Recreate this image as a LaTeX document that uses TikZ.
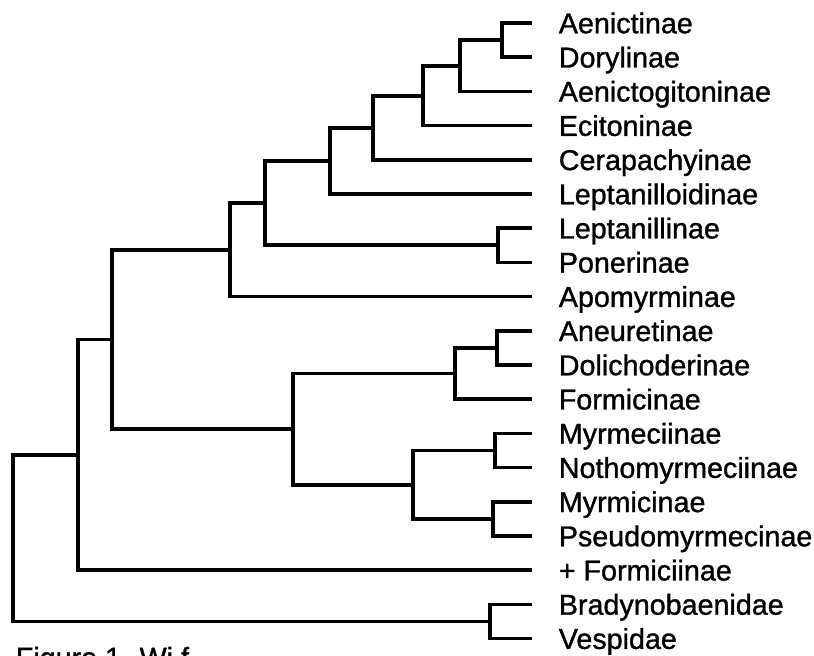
\documentclass[tikz,border=0pt]{standalone}
\usepackage{fontspec}
\setmainfont{Liberation Sans}[BoldFont=Liberation Sans,BoldFeatures={FakeBold=1.1}]
\usepackage{tikz}

\begin{document}
\begin{tikzpicture}[x=0.025cm,y=-0.025cm,line width=2.6pt,
taxon/.style={anchor=west,inner xsep=0.625cm,inner ysep=0pt,text height=14.6pt,text depth=0pt,font=\fontsize{20.4}{24}\selectfont\bfseries}]
\useasboundingbox(0,0)rectangle(814,656);
\node[taxon](aenic)at(532,23){Aenictinae};
\node[taxon](doryl)at(532,57.2){Dorylinae};
\node[taxon](aenictog)at(532,91.4){Aenictogitoninae};
\node[taxon](ecito)at(532,125.6){Ecitoninae};
\node[taxon](cerap)at(532,159.8){Cerapachyinae};
\node[taxon](leptoid)at(532,194){Leptanilloidinae};
\node[taxon](leptan)at(532,228.2){Leptanillinae};
\node[taxon](poner)at(532,262.4){Ponerinae};
\node[taxon](apomy)at(532,296.6){Apomyrminae};
\node[taxon](aneur)at(532,330.8){Aneuretinae};
\node[taxon](dolich)at(532,365){Dolichoderinae};
\node[taxon](formic)at(532,399.2){Formicinae};
\node[taxon](myrmec)at(532,433.4){Myrmeciinae};
\node[taxon](nothom)at(532,467.6){Nothomyrmeciinae};
\node[taxon](myrmic)at(532,501.8){Myrmicinae};
\node[taxon](pseudo)at(532,536){Pseudomyrmecinae};
\node[taxon](formicii)at(532,570.2){+ Formiciinae};
\node[taxon](brady)at(532,604.4){Bradynobaenidae};
\node[taxon](vespi)at(532,638.6){Vespidae};
\node[anchor=north west,inner sep=0pt,font=\fontsize{20.4}{24}\selectfont\bfseries](caption)at(14,645){Figure 1. Wi f};
\coordinate(cl1)at(502,40.1);
\coordinate(cl2)at(460,65.75);
\coordinate(cl3)at(423,95.7);
\coordinate(cl4)at(373,127.7);
\coordinate(cl5)at(330,160.9);
\coordinate(cl6)at(498,245.3);
\coordinate(cl7)at(265,203.1);
\coordinate(cl8)at(230,249.9);
\coordinate(cl9)at(497,347.9);
\coordinate(cl10)at(455,373.6);
\coordinate(cl11)at(495,450.5);
\coordinate(cl12)at(493,518.9);
\coordinate(cl13)at(413,484.7);
\coordinate(cl14)at(293,429.1);
\coordinate(cl15)at(112,339.5);
\coordinate(cl16)at(78,454.9);
\coordinate(cl17)at(490,621.5);
\coordinate(root)at(13,538);
\draw(aenic.west)-|(cl1)|-(doryl.west);
\draw(cl1)-|(cl2)|-(aenictog.west);
\draw(cl2)-|(cl3)|-(ecito.west);
\draw(cl3)-|(cl4)|-(cerap.west);
\draw(cl4)-|(cl5)|-(leptoid.west);
\draw(leptan.west)-|(cl6)|-(poner.west);
\draw(cl5)-|(cl7)|-(cl6);
\draw(cl7)-|(cl8)|-(apomy.west);
\draw(aneur.west)-|(cl9)|-(dolich.west);
\draw(cl9)-|(cl10)|-(formic.west);
\draw(myrmec.west)-|(cl11)|-(nothom.west);
\draw(myrmic.west)-|(cl12)|-(pseudo.west);
\draw(cl11)-|(cl13)|-(cl12);
\draw(cl10)-|(cl14)|-(cl13);
\draw(cl8)-|(cl15)|-(cl14);
\draw(cl15)-|(cl16)|-(formicii.west);
\draw(brady.west)-|(cl17)|-(vespi.west);
\draw(cl16)-|(root)|-(cl17);
\end{tikzpicture}
\end{document}
